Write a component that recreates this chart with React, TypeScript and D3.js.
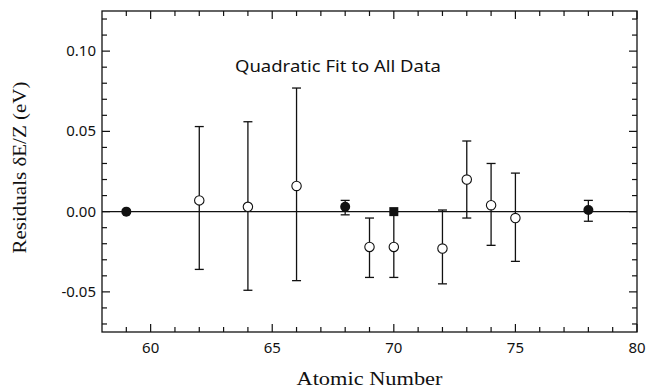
import { useEffect, useRef } from 'react';
import * as d3 from 'd3';

// open circles
const openZ = [62, 64, 66, 69, 70, 72, 73, 74, 75];
const openVal = [0.007, 0.003, 0.016, -0.022, -0.022, -0.023, 0.020, 0.004, -0.004];
const openHi = [0.053, 0.056, 0.077, -0.004, 0.000, 0.001, 0.044, 0.030, 0.024];
const openLo = [-0.036, -0.049, -0.043, -0.041, -0.041, -0.045, -0.004, -0.021, -0.031];

// filled circles
const fillZ = [59, 68, 78];
const fillVal = [0.000, 0.003, 0.001];
const fillHi = [0.000, 0.007, 0.007];
const fillLo = [0.000, -0.002, -0.006];

// filled square
const squareZ = [70];
const squareVal = [0.000];

const xMajor = [60, 65, 70, 75, 80];
const yMajor = [-0.05, 0.0, 0.05, 0.10];

const W = 647;
const H = 390;

function ResidualPlot() {
  const svgRef = useRef<SVGSVGElement>(null);

  useEffect(() => {
    if (!svgRef.current) return;
    const svg = d3.select(svgRef.current);
    svg.selectAll('*').remove();

    const left = 102, right = 637, top = 11, bottom = 332;
    const x = d3.scaleLinear().domain([58, 80]).range([left, right]);
    const y = d3.scaleLinear().domain([-0.075, 0.125]).range([bottom, top]);

    const ink = '#111';
    const tickFont = '"Noto Sans", sans-serif';
    const serif = '"Liberation Serif", "DejaVu Serif", serif';

    // frame
    svg.append('rect')
      .attr('x', left).attr('y', top)
      .attr('width', right - left).attr('height', bottom - top)
      .attr('fill', 'none').attr('stroke', ink).attr('stroke-width', 1.3);

    // ticks, inward on all four sides
    const xMinor = d3.range(59, 80, 1).filter(v => !xMajor.includes(v));
    const yMinor = d3.range(-7, 13, 1).map(v => v / 100).filter(v => !yMajor.some(m => Math.abs(m - v) < 1e-9));

    const addX = (vals: number[], len: number) => {
      vals.forEach(v => {
        svg.append('line').attr('x1', x(v)).attr('x2', x(v)).attr('y1', bottom).attr('y2', bottom - len)
          .attr('stroke', ink).attr('stroke-width', 1.2);
        svg.append('line').attr('x1', x(v)).attr('x2', x(v)).attr('y1', top).attr('y2', top + len)
          .attr('stroke', ink).attr('stroke-width', 1.2);
      });
    };
    const addY = (vals: number[], len: number) => {
      vals.forEach(v => {
        svg.append('line').attr('x1', left).attr('x2', left + len).attr('y1', y(v)).attr('y2', y(v))
          .attr('stroke', ink).attr('stroke-width', 1.2);
        svg.append('line').attr('x1', right).attr('x2', right - len).attr('y1', y(v)).attr('y2', y(v))
          .attr('stroke', ink).attr('stroke-width', 1.2);
      });
    };
    addX(xMajor, 8);
    addX(xMinor, 5);
    addY(yMajor, 8);
    addY(yMinor, 5);

    // tick labels
    xMajor.forEach(v => {
      svg.append('text').attr('x', x(v)).attr('y', bottom + 21)
        .attr('text-anchor', 'middle').attr('font-family', tickFont).attr('font-size', 15)
        .attr('fill', ink).text(String(v));
    });
    yMajor.forEach(v => {
      svg.append('text').attr('x', left - 6).attr('y', y(v) + 5)
        .attr('text-anchor', 'end').attr('font-family', tickFont).attr('font-size', 15)
        .attr('fill', ink).text(v.toFixed(2));
    });

    // zero line
    svg.append('line').attr('x1', left).attr('x2', right).attr('y1', y(0)).attr('y2', y(0))
      .attr('stroke', ink).attr('stroke-width', 1.4);

    const errBar = (z: number, lo: number, hi: number) => {
      if (hi - lo < 1e-9) return;
      svg.append('line').attr('x1', x(z)).attr('x2', x(z)).attr('y1', y(lo)).attr('y2', y(hi))
        .attr('stroke', ink).attr('stroke-width', 1.3);
      [lo, hi].forEach(e => {
        svg.append('line').attr('x1', x(z) - 4.5).attr('x2', x(z) + 4.5).attr('y1', y(e)).attr('y2', y(e))
          .attr('stroke', ink).attr('stroke-width', 1.3);
      });
    };

    openZ.forEach((z, i) => errBar(z, openLo[i], openHi[i]));
    fillZ.forEach((z, i) => errBar(z, fillLo[i], fillHi[i]));

    openZ.forEach((z, i) => {
      svg.append('circle').attr('cx', x(z)).attr('cy', y(openVal[i])).attr('r', 4.7)
        .attr('fill', '#fff').attr('stroke', ink).attr('stroke-width', 1.1);
    });
    fillZ.forEach((z, i) => {
      svg.append('circle').attr('cx', x(z)).attr('cy', y(fillVal[i])).attr('r', 5)
        .attr('fill', ink);
    });
    squareZ.forEach((z, i) => {
      svg.append('rect').attr('x', x(z) - 4.5).attr('y', y(squareVal[i]) - 4.5)
        .attr('width', 9).attr('height', 9).attr('fill', ink);
    });

    // title
    svg.append('text').attr('x', 338).attr('y', 72)
      .attr('text-anchor', 'middle').attr('font-family', tickFont).attr('font-size', 17)
      .attr('textLength', 206).attr('lengthAdjust', 'spacingAndGlyphs')
      .attr('fill', ink).text('Quadratic Fit to All Data');

    // axis labels
    svg.append('text').attr('x', (left + right) / 2).attr('y', 385)
      .attr('text-anchor', 'middle').attr('font-family', serif).attr('font-size', 19)
      .attr('textLength', 146).attr('lengthAdjust', 'spacingAndGlyphs')
      .attr('fill', ink).text('Atomic Number');
    svg.append('text')
      .attr('transform', `translate(26,${(top + bottom) / 2 - 4}) rotate(-90)`)
      .attr('text-anchor', 'middle').attr('font-family', serif).attr('font-size', 19)
      .attr('textLength', 172).attr('lengthAdjust', 'spacingAndGlyphs')
      .attr('fill', ink).text('Residuals δE/Z (eV)');
  }, []);

  return <svg ref={svgRef} width={W} height={H} style={{ position: 'absolute', left: 0, top: 0, background: '#fff' }} />;
}

export default function App() {
  return <ResidualPlot />;
}
